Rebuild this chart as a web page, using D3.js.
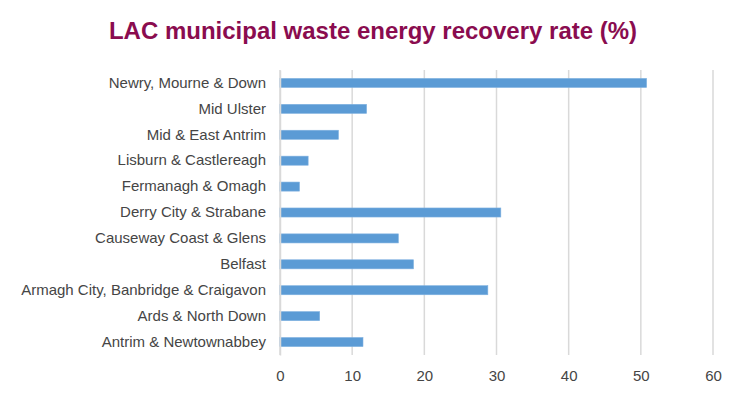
<!DOCTYPE html>
<html>
<head>
<meta charset="utf-8">
<script src="https://cdn.jsdelivr.net/npm/d3@7"></script>
<style>
  body { margin: 0; background: #fff; }
</style>
</head>
<body>
<svg id="chart"></svg>
<script>
const councils = [
  "Newry, Mourne & Down",
  "Mid Ulster",
  "Mid & East Antrim",
  "Lisburn & Castlereagh",
  "Fermanagh & Omagh",
  "Derry City & Strabane",
  "Causeway Coast & Glens",
  "Belfast",
  "Armagh City, Banbridge & Craigavon",
  "Ards & North Down",
  "Antrim & Newtownabbey"
];
const recoveryRate = [50.8, 12.0, 8.1, 3.9, 2.7, 30.6, 16.4, 18.5, 28.8, 5.5, 11.5];
const xTicks = [0, 10, 20, 30, 40, 50, 60];

const w = 750, h = 403;
const margin = { top: 70, right: 37, bottom: 48, left: 280 };

const svg = d3.select("#chart")
  .attr("width", w)
  .attr("height", h);

svg.append("text")
  .attr("x", 373)
  .attr("y", 39)
  .attr("text-anchor", "middle")
  .attr("font-family", "Liberation Sans, Arial, sans-serif")
  .attr("font-weight", "bold")
  .attr("font-size", "24px")
  .attr("fill", "#8a0c4f")
  .text("LAC municipal waste energy recovery rate (%)");

const x = d3.scaleLinear()
  .domain([0, 60])
  .range([margin.left, margin.left + 433]);

const y = d3.scaleBand()
  .domain(councils)
  .range([margin.top, h - margin.bottom])
  .paddingInner(0.65)
  .paddingOuter(0.325);

// gridlines
svg.append("g")
  .selectAll("line")
  .data(xTicks)
  .enter()
  .append("line")
  .attr("x1", d => x(d))
  .attr("x2", d => x(d))
  .attr("y1", margin.top)
  .attr("y2", h - margin.bottom)
  .attr("stroke", "#d9d9d9")
  .attr("stroke-width", 1.5);

// bars
svg.append("g")
  .selectAll("rect")
  .data(recoveryRate)
  .enter()
  .append("rect")
  .attr("x", x(0))
  .attr("y", (d, i) => y(councils[i]))
  .attr("width", d => x(d) - x(0))
  .attr("height", y.bandwidth())
  .attr("fill", "#5b9bd5")
  .attr("stroke", "#7fb1e0")
  .attr("stroke-width", 0.6);

// category axis
const yAxis = svg.append("g")
  .attr("transform", `translate(${margin.left},0)`)
  .call(d3.axisLeft(y).tickSize(0).tickPadding(14));
yAxis.select(".domain").attr("stroke", "#d9d9d9").attr("stroke-width", 1.5);
yAxis.selectAll("text")
  .attr("font-family", "Liberation Sans, Arial, sans-serif")
  .attr("font-size", "15px")
  .attr("fill", "#454545");

// value axis
const xAxis = svg.append("g")
  .attr("transform", `translate(0,${h - margin.bottom})`)
  .call(d3.axisBottom(x).tickValues(xTicks).tickSize(0).tickPadding(15));
xAxis.select(".domain").remove();
xAxis.selectAll("text")
  .attr("font-family", "Liberation Sans, Arial, sans-serif")
  .attr("font-size", "15px")
  .attr("fill", "#454545");
</script>
</body>
</html>
